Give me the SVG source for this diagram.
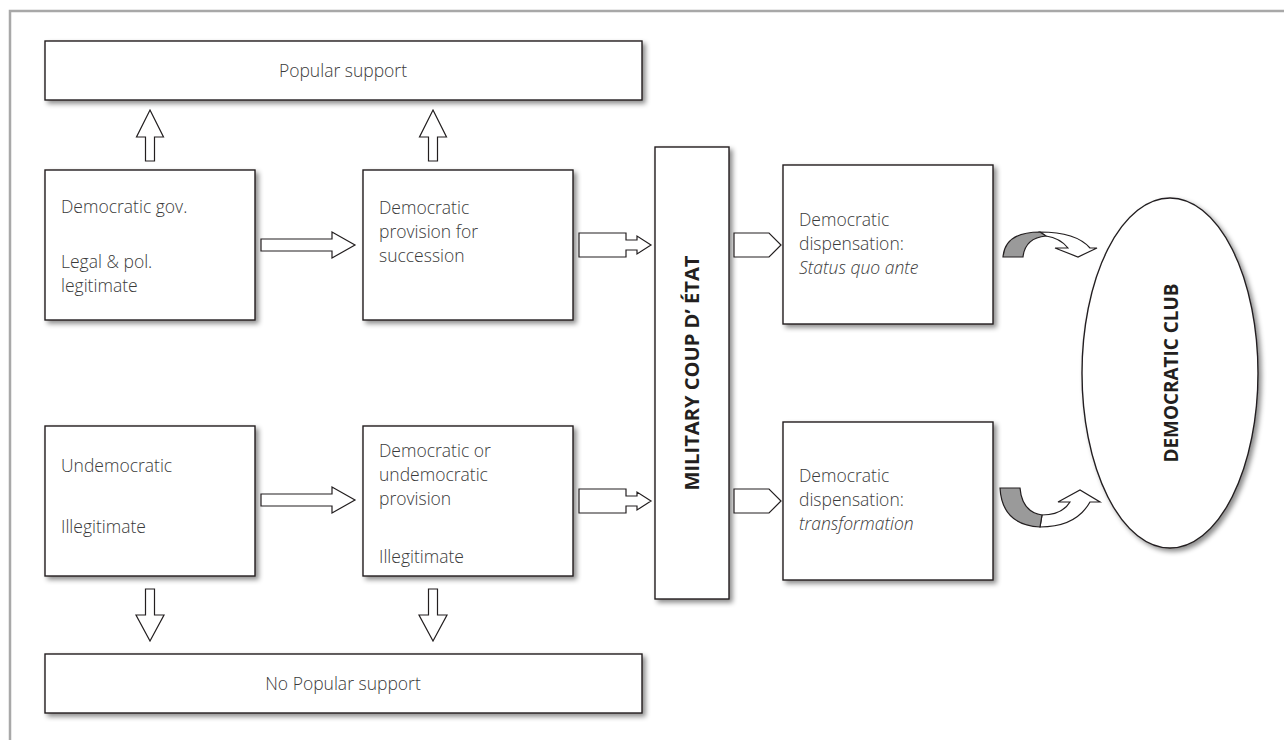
<svg xmlns="http://www.w3.org/2000/svg" width="1284" height="740" viewBox="0 0 1284 740">
<defs>
<filter id="sh" x="-10%" y="-10%" width="130%" height="130%">
<feDropShadow dx="3" dy="3" stdDeviation="2.5" flood-color="#000" flood-opacity="0.45"/>
</filter>
<style>
.box{fill:#fff;stroke:#231f20;stroke-width:1.4;filter:url(#sh)}
.arr{fill:#fff;stroke:#231f20;stroke-width:1.2;stroke-linejoin:miter}
.gr{fill:#9a9a9a;stroke:#231f20;stroke-width:1.2}
.t{font-family:"Open Sans","Noto Sans",sans-serif;font-size:17.5px;font-weight:300;fill:#3a3a3a}
.c{text-anchor:middle}
.i{font-style:italic}
.b{font-family:"Open Sans","Noto Sans",sans-serif;font-size:19px;font-weight:700;fill:#231f20;text-anchor:middle}
</style>
</defs>
<rect width="1284" height="740" fill="#fff"/>
<path d="M10,740 V11 H1284" fill="none" stroke="#a8a8a8" stroke-width="2.5"/>

<g id="popular-support">
<rect class="box" x="45" y="41" width="597" height="59"/>
<text class="t c" x="343" y="77">Popular support</text>
</g>
<g id="democratic-gov">
<rect class="box" x="45" y="170" width="210" height="150"/>
<text class="t" x="61" y="213">Democratic gov.</text>
<text class="t" x="61" y="268">Legal &amp; pol.</text>
<text class="t" x="61" y="292">legitimate</text>
</g>
<g id="democratic-provision">
<rect class="box" x="363" y="170" width="210" height="150"/>
<text class="t" x="379" y="214">Democratic</text>
<text class="t" x="379" y="238">provision for</text>
<text class="t" x="379" y="262">succession</text>
</g>
<g id="undemocratic">
<rect class="box" x="45" y="426" width="210" height="150"/>
<text class="t" x="61" y="472">Undemocratic</text>
<text class="t" x="61" y="533">Illegitimate</text>
</g>
<g id="undemocratic-provision">
<rect class="box" x="363" y="426" width="210" height="150"/>
<text class="t" x="379" y="457">Democratic or</text>
<text class="t" x="379" y="481">undemocratic</text>
<text class="t" x="379" y="505">provision</text>
<text class="t" x="379" y="563">Illegitimate</text>
</g>
<g id="no-popular-support">
<rect class="box" x="45" y="654" width="597" height="59"/>
<text class="t c" x="343" y="690">No Popular support</text>
</g>
<g id="military-coup">
<rect class="box" x="655" y="147" width="74" height="452"/>
<text class="b" transform="translate(699,373) rotate(-90)" textLength="235" lengthAdjust="spacingAndGlyphs">MILITARY COUP D’ ÉTAT</text>
</g>
<g id="dispensation-status-quo">
<rect class="box" x="783" y="165" width="210" height="159"/>
<text class="t" x="799" y="226">Democratic</text>
<text class="t" x="799" y="250">dispensation:</text>
<text class="t i" x="799" y="274">Status quo ante</text>
</g>
<g id="dispensation-transformation">
<rect class="box" x="783" y="422" width="210" height="158"/>
<text class="t" x="799" y="482">Democratic</text>
<text class="t" x="799" y="506">dispensation:</text>
<text class="t i" x="799" y="530">transformation</text>
</g>
<g id="democratic-club">
<ellipse cx="1170" cy="373" rx="88" ry="175" fill="#fff" stroke="#231f20" stroke-width="1.4" filter="url(#sh)"/>
<text class="b" transform="translate(1178,373) rotate(-90)" textLength="179" lengthAdjust="spacingAndGlyphs">DEMOCRATIC CLUB</text>
</g>

<g id="connectors">
<polygon class="arr" points="150,110 163.5,137 154.5,137 154.5,161 145.5,161 145.5,137 136.5,137"/>
<polygon class="arr" points="433,110 446.5,137 437.5,137 437.5,161 428.5,161 428.5,137 419.5,137"/>
<polygon class="arr" points="145.5,589 154.5,589 154.5,615 164,615 150,641 136,615 145.5,615"/>
<polygon class="arr" points="428.5,589 437.5,589 437.5,615 447,615 433,641 419,615 428.5,615"/>
<polygon class="arr" points="261,239 332,239 332,232 355,245 332,258 332,251 261,251"/>
<polygon class="arr" points="261,494 332,494 332,487 355,500 332,513 332,506 261,506"/>
<polygon class="arr" points="579,233 626,233 626,240 637,240 637,236 651,245 637,254 637,250 626,250 626,257 579,257"/>
<polygon class="arr" points="579,489 626,489 626,496 637,496 637,492 651,501 637,510 637,506 626,506 626,513 579,513"/>
<polygon class="arr" points="734,233 769,233 781,245 769,257 734,257"/>
<polygon class="arr" points="734,489 769,489 781,501 769,513 734,513"/>
<path class="arr" d="M1040,232 Q1076,232 1090,248 L1097,248 L1078,257 L1055,248 L1068,248 Q1060,238 1046,236 Z"/>
<path class="gr" d="M1003,257 Q1005,232 1040,232 L1046,236 Q1025,238 1023,257 Z"/>
<path class="arr" d="M1040,527 Q1076,527 1090,502 L1100,502 L1080,490 L1058,502 L1070,502 Q1062,515 1042,515 Z"/>
<path class="gr" d="M1000,488 L1020,488 Q1022,512 1042,515 L1040,527 Q1002,525 1000,488 Z"/>
</g>
</svg>
